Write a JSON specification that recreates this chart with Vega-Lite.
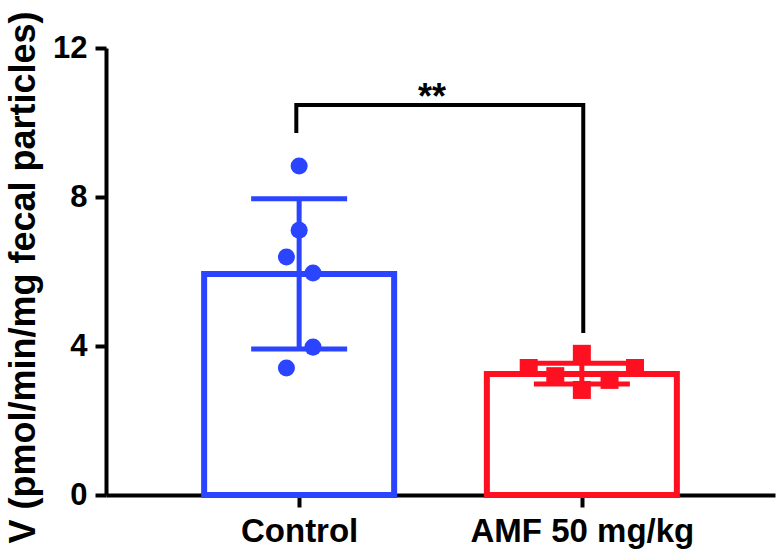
{
  "$schema": "https://vega.github.io/schema/vega-lite/v6.json",
  "width": 669,
  "height": 447,
  "autosize": {"type": "none"},
  "padding": {"left": 106, "top": 48, "right": 8, "bottom": 62},
  "background": "white",
  "config": {
    "view": {"stroke": null},
    "font": "Liberation Sans",
    "axis": {"grid": false, "labelFont": "Liberation Sans", "titleFont": "Liberation Sans"}
  },
  "datasets": {
    "groups": [
      {"group": "Control", "pos": 1, "mean": 5.93, "lo": 3.92, "hi": 7.95},
      {"group": "AMF 50 mg/kg", "pos": 2, "mean": 3.25, "lo": 2.98, "hi": 3.54}
    ],
    "points": [
      {"group": "Control", "pos": 1.0, "v": 8.83},
      {"group": "Control", "pos": 1.0, "v": 7.11},
      {"group": "Control", "pos": 0.955, "v": 6.39},
      {"group": "Control", "pos": 1.049, "v": 5.96},
      {"group": "Control", "pos": 1.049, "v": 3.97},
      {"group": "Control", "pos": 0.955, "v": 3.41},
      {"group": "AMF 50 mg/kg", "pos": 2.0, "v": 3.79},
      {"group": "AMF 50 mg/kg", "pos": 1.812, "v": 3.41},
      {"group": "AMF 50 mg/kg", "pos": 2.188, "v": 3.41},
      {"group": "AMF 50 mg/kg", "pos": 1.906, "v": 3.19},
      {"group": "AMF 50 mg/kg", "pos": 2.098, "v": 3.09},
      {"group": "AMF 50 mg/kg", "pos": 2.0, "v": 2.82}
    ],
    "bracket": [
      {"order": 1, "pos": 0.99, "v": 9.72},
      {"order": 2, "pos": 0.99, "v": 10.47},
      {"order": 3, "pos": 2.005, "v": 10.47},
      {"order": 4, "pos": 2.005, "v": 4.35}
    ],
    "stars": [{"pos": 1.47, "v": 10.36, "label": "**"}]
  },
  "layer": [
    {
      "data": {"name": "groups"},
      "mark": {"type": "bar", "width": 190, "fill": "white", "strokeWidth": 6, "strokeJoin": "miter"},
      "encoding": {
        "x": {
          "field": "pos", "type": "quantitative",
          "scale": {"domain": [0.3345, 2.6655], "nice": false, "zero": false},
          "axis": {
            "values": [1, 2],
            "labelExpr": "datum.value == 1 ? 'Control' : 'AMF 50 mg/kg'",
            "title": null,
            "domainColor": "black", "domainWidth": 4,
            "tickColor": "black", "tickWidth": 4, "tickSize": 12,
            "labelFontSize": 33, "labelFontWeight": "bold", "labelColor": "black",
            "labelPadding": 8, "labelFlush": false, "labelOverlap": false, "labelLimit": 0
          }
        },
        "y": {
          "field": "mean", "type": "quantitative",
          "scale": {"domain": [0, 12], "nice": false},
          "axis": {
            "values": [0, 4, 8, 12],
            "domainColor": "black", "domainWidth": 4,
            "tickColor": "black", "tickWidth": 4, "tickSize": 11,
            "labelFontSize": 31, "labelFontWeight": "bold", "labelColor": "black",
            "labelPadding": 8, "labelLimit": 0,
            "title": "V (pmol/min/mg fecal particles)",
            "titleFontSize": 36, "titleFontWeight": "bold", "titleColor": "black",
            "titleAngle": -90, "titleX": -83, "titleY": 229,
            "titleBaseline": "middle", "titleAlign": "center", "titleLimit": 0
          }
        },
        "y2": {"datum": 0},
        "stroke": {
          "field": "group", "type": "nominal",
          "scale": {"domain": ["Control", "AMF 50 mg/kg"], "range": ["#2a44ff", "#ff1020"]},
          "legend": null
        }
      }
    },
    {
      "data": {"name": "groups"},
      "mark": {"type": "rule", "strokeWidth": 5},
      "encoding": {
        "x": {"field": "pos", "type": "quantitative"},
        "y": {"field": "lo", "type": "quantitative"},
        "y2": {"field": "hi"},
        "color": {
          "field": "group", "type": "nominal",
          "scale": {"domain": ["Control", "AMF 50 mg/kg"], "range": ["#2a44ff", "#ff1020"]},
          "legend": null
        }
      }
    },
    {
      "data": {"name": "groups"},
      "mark": {"type": "tick", "orient": "horizontal", "size": 96, "thickness": 5, "opacity": 1},
      "encoding": {
        "x": {"field": "pos", "type": "quantitative"},
        "y": {"field": "lo", "type": "quantitative"},
        "color": {"field": "group", "type": "nominal", "legend": null}
      }
    },
    {
      "data": {"name": "groups"},
      "mark": {"type": "tick", "orient": "horizontal", "size": 96, "thickness": 5, "opacity": 1},
      "encoding": {
        "x": {"field": "pos", "type": "quantitative"},
        "y": {"field": "hi", "type": "quantitative"},
        "color": {"field": "group", "type": "nominal", "legend": null}
      }
    },
    {
      "data": {"name": "points"},
      "transform": [{"filter": "datum.group == 'Control'"}],
      "mark": {"type": "circle", "size": 290, "opacity": 1},
      "encoding": {
        "x": {"field": "pos", "type": "quantitative"},
        "y": {"field": "v", "type": "quantitative"},
        "color": {"field": "group", "type": "nominal", "legend": null}
      }
    },
    {
      "data": {"name": "points"},
      "transform": [{"filter": "datum.group != 'Control'"}],
      "mark": {"type": "square", "size": 324, "opacity": 1},
      "encoding": {
        "x": {"field": "pos", "type": "quantitative"},
        "y": {"field": "v", "type": "quantitative"},
        "color": {"field": "group", "type": "nominal", "legend": null}
      }
    },
    {
      "data": {"name": "bracket"},
      "mark": {"type": "line", "color": "black", "strokeWidth": 4, "strokeJoin": "miter", "strokeCap": "butt"},
      "encoding": {
        "x": {"field": "pos", "type": "quantitative"},
        "y": {"field": "v", "type": "quantitative"},
        "order": {"field": "order", "type": "quantitative"}
      }
    },
    {
      "data": {"name": "stars"},
      "mark": {"type": "text", "fontSize": 36, "fontWeight": "bold", "align": "center", "baseline": "alphabetic", "color": "black", "font": "Liberation Sans"},
      "encoding": {
        "x": {"field": "pos", "type": "quantitative"},
        "y": {"field": "v", "type": "quantitative"},
        "text": {"field": "label"}
      }
    }
  ]
}
